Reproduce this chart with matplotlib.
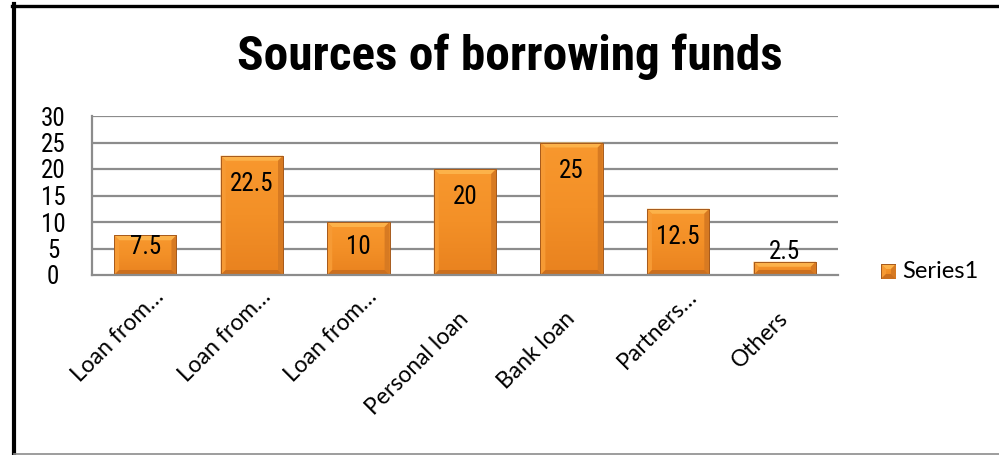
import matplotlib
matplotlib.use("Agg")
import matplotlib.pyplot as plt
import numpy as np
from matplotlib.patches import Polygon, Rectangle
from matplotlib.lines import Line2D
from matplotlib.colors import LinearSegmentedColormap
import matplotlib.transforms as mtransforms

categories = ["Loan from…", "Loan from…", "Loan from…", "Personal loan",
              "Bank loan", "Partners…", "Others"]
values = [7.5, 22.5, 10, 20, 25, 12.5, 2.5]
value_labels = ["7.5", "22.5", "10", "20", "25", "12.5", "2.5"]
yticks = [0, 5, 10, 15, 20, 25, 30]
series_name = "Series1"

NARROW = ["Liberation Sans Narrow", "Roboto Condensed", "DejaVu Sans Condensed",
          "Liberation Sans", "DejaVu Sans"]
BODY = ["Lato", "DejaVu Sans"]

LIGHT = "#FCB24A"
SIDE_L = "#F69A34"
SIDE_R = "#D77A22"
BOTTOM = "#CB6F1E"
EDGE = "#A65A1C"
face_cmap = LinearSegmentedColormap.from_list("face", ["#E9821F", "#F39027", "#F8982E"])
grad = np.linspace(0, 1, 64).reshape(-1, 1)

fig = plt.figure(figsize=(9.99, 4.55), dpi=100)
ax = fig.add_axes([92 / 999, 1 - 275 / 455, (838 - 92) / 999, (275 - 116) / 455])

n = len(values)

# gridlines behind the bars
for t in yticks[1:]:
    ax.axhline(t, color="#8C8C8C", lw=1.6, zorder=0)

bar_w = 0.585
# pixels per data unit, used to size the bevel and label offsets
px_x = (838 - 92) / n
px_y = (275 - 116) / 30.0
bev = 5.0


def bevel_bar(x0, x1, h, axis, sx=px_x, sy=px_y, z=2):
    bx = bev / sx
    by = min(bev / sy, h / 2.5)
    body = Rectangle((x0, 0), x1 - x0, h, facecolor="none", edgecolor="none")
    axis.add_patch(body)
    im = axis.imshow(grad, extent=(x0, x1, 0, h), origin="lower", cmap=face_cmap,
                     aspect="auto", zorder=z, interpolation="bilinear")
    im.set_clip_path(body)
    axis.add_patch(Polygon([(x0, h), (x1, h), (x1 - bx, h - by), (x0 + bx, h - by)],
                           closed=True, facecolor=LIGHT, edgecolor="none", zorder=z + 0.1))
    axis.add_patch(Polygon([(x0, 0), (x0 + bx, by), (x0 + bx, h - by), (x0, h)],
                           closed=True, facecolor=SIDE_L, edgecolor="none", zorder=z + 0.1))
    axis.add_patch(Polygon([(x1, 0), (x1 - bx, by), (x1 - bx, h - by), (x1, h)],
                           closed=True, facecolor=SIDE_R, edgecolor="none", zorder=z + 0.1))
    axis.add_patch(Polygon([(x0, 0), (x1, 0), (x1 - bx, by), (x0 + bx, by)],
                           closed=True, facecolor=BOTTOM, edgecolor="none", zorder=z + 0.1))
    axis.add_patch(Rectangle((x0, 0), x1 - x0, h, facecolor="none",
                             edgecolor=EDGE, lw=0.7, zorder=z + 0.2))


for i, (v, lab) in enumerate(zip(values, value_labels)):
    cx = i + 0.5
    bevel_bar(cx - bar_w / 2, cx + bar_w / 2, v, ax)
    h_px = v * px_y
    off = min(28.0, h_px - 28.0)
    if off < 8:
        y = v + 10 / px_y
    else:
        y = v - off / px_y
    ax.text(cx, y, lab, ha="center", va="center", fontsize=18,
            family=NARROW, color="black", zorder=5)

ax.set_xlim(0, n)
ax.set_ylim(0, 30)

for s in ["top", "right"]:
    ax.spines[s].set_visible(False)
ax.spines["left"].set_color("#8C8C8C")
ax.spines["left"].set_linewidth(1.6)
ax.spines["bottom"].set_color("#8C8C8C")
ax.spines["bottom"].set_linewidth(1.6)
ax.spines["bottom"].set_zorder(6)

ax.set_yticks(yticks)
ax.set_yticklabels([str(t) for t in yticks], family=NARROW, fontsize=18)
ax.tick_params(axis="y", length=0, pad=28)
for t in ax.get_yticklabels():
    t.set_horizontalalignment("center")
ax.set_xticks([])

# rotated category labels anchored under each bar
for i, c in enumerate(categories):
    if c.endswith("…"):
        dx, dy = 20, -23
    else:
        dx, dy = 5, -45
    tr = ax.get_xaxis_transform() + mtransforms.ScaledTranslation(
        dx / 100, dy / 100, fig.dpi_scale_trans)
    ax.text(i + 0.5, 0, c, rotation=45, rotation_mode="anchor",
            ha="right", va="baseline", fontsize=16.5, family=BODY,
            transform=tr, clip_on=False)

# legend
lax = fig.add_axes([881 / 999, 1 - 279 / 455, 15 / 999, 15 / 455])
bevel_bar(0, 1, 1, lax, sx=15, sy=15)
lax.set_xlim(0, 1)
lax.set_ylim(0, 1)
lax.axis("off")
fig.text(902 / 999, 1 - 271 / 455, series_name, ha="left", va="center",
         fontsize=17, family=BODY)

fig.text(509.5 / 999, 1 - 70 / 455, "Sources of borrowing funds", ha="center",
         va="baseline", fontsize=35.5, fontweight="bold", family=NARROW)

# outer frame
fig.add_artist(Line2D([12 / 999, 1], [1 - 5.5 / 455] * 2, color="black", lw=2.4,
                      transform=fig.transFigure))
fig.add_artist(Line2D([14 / 999] * 2, [0, 1 - 4 / 455], color="black", lw=3,
                      transform=fig.transFigure))
fig.add_artist(Line2D([14 / 999, 1], [1.5 / 455] * 2, color="#8C8C8C", lw=1.2,
                      transform=fig.transFigure))

fig.savefig("out.png", dpi=100)
